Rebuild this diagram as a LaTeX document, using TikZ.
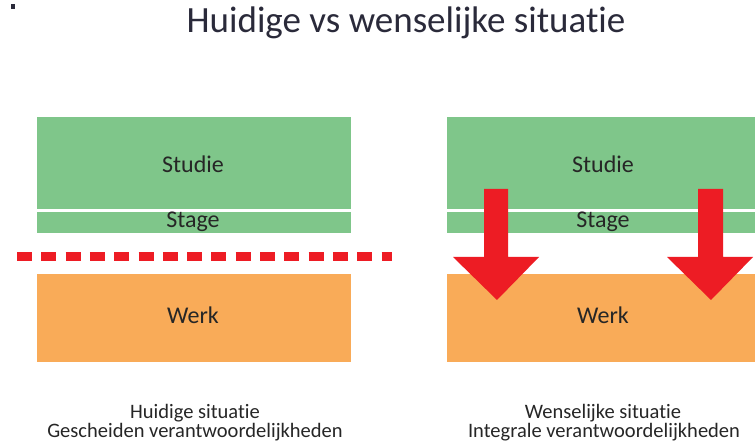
\documentclass[tikz,border=0pt]{standalone}
\usepackage{fontspec}
\setmainfont[Ligatures=NoCommon]{Carlito}
\definecolor{gbox}{HTML}{7FC68A}
\definecolor{obox}{HTML}{F9AB58}
\definecolor{redc}{HTML}{ED1C24}
\definecolor{txt}{HTML}{262626}
\definecolor{ttl}{HTML}{2A2A3A}
\begin{document}
\begin{tikzpicture}[x=1pt,y=-1pt,
  boxlabel/.style={font=\fontsize{24}{26}\selectfont, text=txt, inner sep=0pt, anchor=base},
  caplabel/.style={font=\fontsize{20.5}{22}\selectfont, text=txt, inner sep=0pt, anchor=base},
  arrowshape/.style={fill=redc, draw=none}]
\useasboundingbox (0,0) rectangle (755,443);
\fill[white] (0,0) rectangle (755,443);
% small mark
\fill[ttl] (11,4) rectangle (15,9);
\node[font=\fontsize{37}{40}\selectfont, text=ttl, inner sep=0pt, anchor=base] (title) at (406,33) {Huidige vs wenselijke situatie};
% left side
\fill[gbox] (37,117) rectangle (351,209);
\fill[gbox] (37,212) rectangle (351,233);
\fill[obox] (37,274) rectangle (351,362);
\node[boxlabel] (ls) at (193,173) {Studie};
\node[boxlabel] (lst) at (193,228) {Stage};
\node[boxlabel] (lw) at (193,324) {Werk};
\coordinate (d1) at (17,257);
\coordinate (d2) at (392,257);
\draw[redc, line width=9pt, dash pattern=on 15pt off 9.3pt] (d1) -- (d2);
% right side
\fill[gbox] (447,117) rectangle (755,209);
\fill[gbox] (447,212) rectangle (755,233);
\fill[obox] (447,274) rectangle (755,362);
\node[boxlabel] (rs) at (603,173) {Studie};
\node[boxlabel] (rst) at (603,228) {Stage};
\node[boxlabel] (rw) at (603,324) {Werk};
\fill[arrowshape] (484,189) -- (508,189) -- (508,257) -- (539,257) -- (497,300) -- (453,257) -- (484,257) -- cycle;
\fill[arrowshape] (698,189) -- (723,189) -- (723,257) -- (753,257) -- (711,300) -- (667,257) -- (698,257) -- cycle;
% captions
\node[caplabel] (lc1) at (195,418) {Huidige situatie};
\node[caplabel] (lc2) at (195,438) {Gescheiden verantwoordelijkheden};
\node[caplabel] (rc1) at (603,418) {Wenselijke situatie};
\node[caplabel] (rc2) at (604,438) {Integrale verantwoordelijkheden};
\end{tikzpicture}
\end{document}
